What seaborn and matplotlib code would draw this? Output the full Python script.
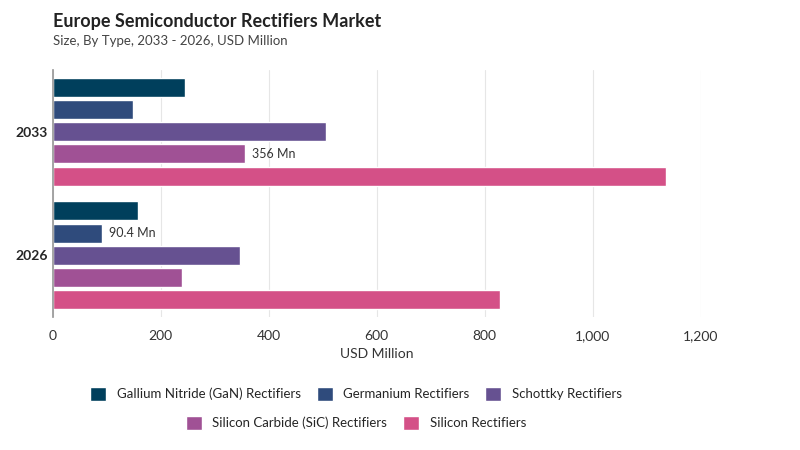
import matplotlib
matplotlib.use("Agg")
import matplotlib.pyplot as plt
import seaborn as sns
import pandas as pd

years = ["2033", "2026"]
types = ["Gallium Nitride (GaN) Rectifiers", "Germanium Rectifiers", "Schottky Rectifiers",
         "Silicon Carbide (SiC) Rectifiers", "Silicon Rectifiers"]
v2033 = [245, 148, 506, 356, 1135]
v2026 = [158, 90.4, 347, 239, 829]
colors = ["#003f5c", "#2f4b7c", "#665191", "#a05195", "#d45087"]

rows = []
for t, a, b in zip(types, v2033, v2026):
    rows.append({"Year": "2033", "Type": t, "Value": a})
    rows.append({"Year": "2026", "Type": t, "Value": b})
df = pd.DataFrame(rows)

sns.set_theme(style="white")
plt.rcParams['font.family'] = ['Lato', 'DejaVu Sans']
fig = plt.figure(figsize=(8, 4.5), dpi=100)
ax = fig.add_axes([0.066, 0.295, 0.81, 0.55])
sns.barplot(data=df, y="Year", x="Value", hue="Type", order=years, hue_order=types,
            palette=colors, orient="h", ax=ax, width=0.9, gap=0.15, legend=False, saturation=1)
ax.set_xlim(0, 1200)
ax.set_xticks([0, 200, 400, 600, 800, 1000, 1200])
ax.set_xticklabels(["0", "200", "400", "600", "800", "1,000", "1,200"], fontsize=10, color="#333")
ax.grid(axis="x", color="#e6e6e6", linewidth=0.8)
ax.set_axisbelow(True)
for s in ["top", "right", "bottom"]:
    ax.spines[s].set_visible(False)
ax.spines["left"].set_color("#999")
ax.set_ylabel("")
ax.set_xlabel("USD Million", fontsize=10, color="#333")
ax.tick_params(axis="y", labelsize=10, length=0)
for lab in ax.get_yticklabels():
    lab.set_fontweight("bold")
conts = ax.containers
ax.bar_label(conts[3], labels=["356 Mn", ""], padding=5, fontsize=9, color="#333")
ax.bar_label(conts[1], labels=["", "90.4 Mn"], padding=5, fontsize=9, color="#333")

fig.text(0.066, 0.94, "Europe Semiconductor Rectifiers Market", fontsize=13, fontweight="bold", color="#222")
fig.text(0.066, 0.9, "Size, By Type, 2033 - 2026, USD Million", fontsize=9.5, color="#444")

from matplotlib.patches import Patch
h = [Patch(facecolor=c) for c in colors]
fig.legend(h[:3], types[:3], loc="center", bbox_to_anchor=(0.445, 0.125), ncol=3,
           frameon=False, fontsize=9.5, handlelength=1.2, handleheight=1.2, columnspacing=1.2)
fig.legend(h[3:], types[3:], loc="center", bbox_to_anchor=(0.445, 0.06), ncol=2,
           frameon=False, fontsize=9.5, handlelength=1.2, handleheight=1.2, columnspacing=1.2)
fig.savefig("out.png", dpi=100)
